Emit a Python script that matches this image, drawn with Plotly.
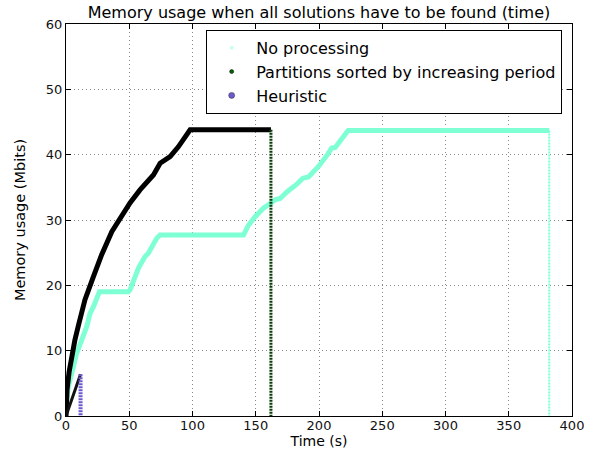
import plotly.graph_objects as go

# ---- data ----
noproc_t = [0.5, 1.8, 4.5, 8.4, 12.4, 16.4, 19, 21.6, 26.4, 49.3, 50.6, 57.2, 62.5, 65.1,
            71.7, 74.4, 140.3, 144.2, 149.5, 156, 162, 165.3, 169.3, 174.6, 182, 187.3,
            191.7, 199.6, 206.7, 210, 212.8, 219.4, 223, 382]
noproc_m = [2, 4.5, 6.5, 9.6, 11.6, 13.7, 15.7, 16.7, 19.0, 19.0, 19.3, 22.6, 24.4, 24.9,
            27.2, 27.7, 27.7, 29.2, 30.5, 31.8, 32.6, 33.1, 33.3, 34.3, 35.4, 36.4,
            36.6, 38.2, 40.0, 41.0, 41.1, 42.8, 43.7, 43.7]
noproc_drop_t = [382, 382]
noproc_drop_m = [43.7, 0]

part_t = [0, 0.8, 2.5, 4.5, 7, 10, 15, 21.6, 28.2, 36.2, 38.8, 50.6, 58.5, 69.1, 74.4,
          82.3, 88.8, 94.1, 98.1, 162]
part_m = [0, 4.0, 6.8, 9.2, 11.6, 14.0, 17.8, 21.3, 24.7, 28.2, 29.0, 32.6, 34.6, 36.9,
          38.7, 39.7, 41.2, 42.8, 43.8, 43.8]
part_drop_t = [162, 162]
part_drop_m = [43.8, 0]

heur_t = [0, 11.5]
heur_m = [0, 6.4]
heur_drop_t = [11.5, 11.5]
heur_drop_m = [6.4, 0]

series_names = ["No processing", "Partitions sorted by increasing period", "Heuristic"]

x_ticks = [0, 50, 100, 150, 200, 250, 300, 350, 400]
y_ticks = [0, 10, 20, 30, 40, 50, 60]

AQUA = "#7FFFD4"
DGREEN = "#006400"
SLATE = "#6A5ACD"

fig = go.Figure()

# No processing
fig.add_trace(go.Scatter(x=noproc_t, y=noproc_m, mode="lines",
                         line=dict(color=AQUA, width=5), showlegend=False, hoverinfo="skip"))
fig.add_trace(go.Scatter(x=noproc_drop_t, y=noproc_drop_m, mode="lines",
                         line=dict(color=AQUA, width=2, dash="2px,1px"), showlegend=False, hoverinfo="skip"))
# Partitions
fig.add_trace(go.Scatter(x=part_t, y=part_m, mode="lines",
                         line=dict(color="#000000", width=5), showlegend=False, hoverinfo="skip"))
fig.add_trace(go.Scatter(x=part_drop_t, y=part_drop_m, mode="lines",
                         line=dict(color="#0b3d0b", width=3, dash="2px,1px"), showlegend=False, hoverinfo="skip"))
# Heuristic
fig.add_trace(go.Scatter(x=heur_t, y=heur_m, mode="lines",
                         line=dict(color="#111111", width=3), showlegend=False, hoverinfo="skip"))
fig.add_trace(go.Scatter(x=heur_drop_t, y=heur_drop_m, mode="lines",
                         line=dict(color=SLATE, width=4, dash="2px,1px"), showlegend=False, hoverinfo="skip"))

# legend entries
fig.add_trace(go.Scatter(x=[None], y=[None], mode="markers", name=series_names[0],
                         marker=dict(color="#c8fff0", size=4, line=dict(width=0))))
fig.add_trace(go.Scatter(x=[None], y=[None], mode="markers", name=series_names[1],
                         marker=dict(color=DGREEN, size=4, line=dict(color="#000", width=0.5))))
fig.add_trace(go.Scatter(x=[None], y=[None], mode="markers", name=series_names[2],
                         marker=dict(color=SLATE, size=6, line=dict(color="#333", width=0.5))))

axis_common = dict(
    showline=True, linecolor="black", linewidth=1, mirror="allticks",
    ticks="inside", ticklen=5, tickcolor="black", automargin=False,
    showgrid=True, gridcolor="#8a8a8a", griddash="1px,3px", gridwidth=1,
    zeroline=False, tickfont=dict(family="DejaVu Sans", size=13, color="#111"),
)

W, H = 594, 454
fig.update_layout(
    width=W, height=H,
    margin=dict(l=66, r=22, t=24, b=38),
    paper_bgcolor="white", plot_bgcolor="white",
    font=dict(family="DejaVu Sans", color="#000"),
    title=dict(text="Memory usage when all solutions have to be found (time)",
               x=319 / W, xanchor="center", y=1 - 12 / H, yanchor="middle",
               font=dict(family="DejaVu Sans", size=16, color="#000")),
    xaxis=dict(range=[0, 400], tickvals=x_ticks, ticklabelstandoff=-3,
               title=dict(text="Time (s)", font=dict(size=14), standoff=4), **axis_common),
    yaxis=dict(range=[0, 60], tickvals=y_ticks,
               title=dict(text="Memory usage (Mbits)", font=dict(size=14.5), standoff=16), **axis_common),
    legend=dict(x=0.277, y=0.985, xanchor="left", yanchor="top",
                bgcolor="white", bordercolor="black", borderwidth=1,
                font=dict(family="DejaVu Sans", size=16, color="#000"),
                itemwidth=39, tracegroupgap=0),
    showlegend=True,
)

# remove the page's default body margin so the figure sits at the window's corner
fig.write_html("out.html", config={"displayModeBar": False},
               post_script="document.body.style.margin='0';")
